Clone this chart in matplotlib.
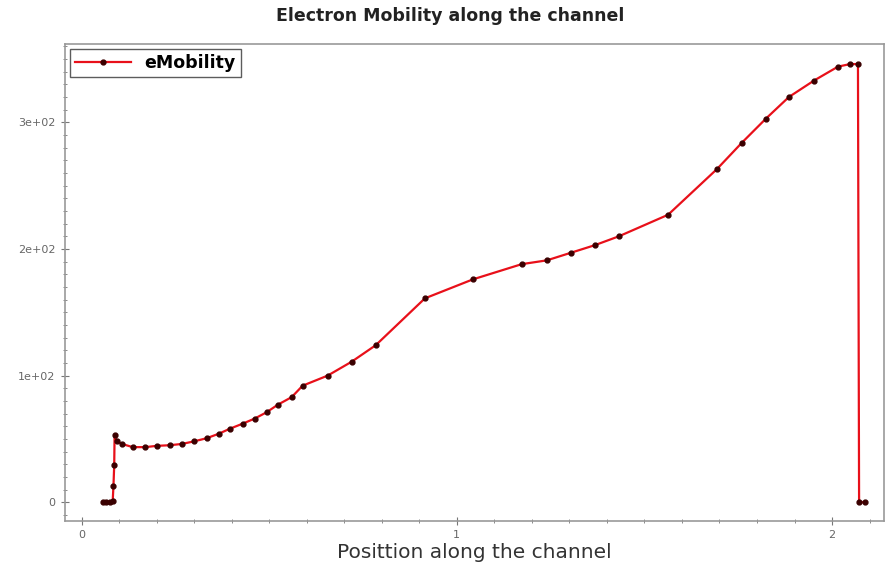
import matplotlib
matplotlib.use('Agg')
import matplotlib.pyplot as plt
from matplotlib.ticker import MultipleLocator, FixedFormatter, FixedLocator

# position along the channel and electron mobility
position = [0.056, 0.065, 0.075, 0.083, 0.085, 0.087, 0.088, 0.095, 0.108, 0.136,
            0.170, 0.200, 0.235, 0.267, 0.299, 0.333, 0.365, 0.395, 0.429, 0.461,
            0.493, 0.523, 0.560, 0.589, 0.656, 0.720, 0.784, 0.915, 1.043, 1.173,
            1.240, 1.304, 1.368, 1.432, 1.563, 1.693, 1.760, 1.824, 1.885, 1.952,
            2.016, 2.048, 2.069, 2.072, 2.088]
mobility = [0, 0, 0, 1, 13, 29, 53, 48, 46, 43.5,
            43.5, 44.5, 45, 46, 48, 50.5, 54, 58, 62, 66,
            71, 77, 83, 92, 100, 111, 124, 161, 176, 188,
            191, 197, 203, 210, 227, 263, 284, 303, 320, 333,
            344, 346, 346, 0, 0]
xticks = [0, 1, 2]
yticks = [0, 100, 200, 300]
ytick_labels = ['0', '1e+02', '2e+02', '3e+02']

fig = plt.figure(figsize=(8.86, 5.69), dpi=100)
ax = fig.add_axes([0.073, 0.084, 0.925, 0.839])

ax.plot(position, mobility, color='#e8101a', lw=1.6, marker='o', ms=3.5,
        mfc='#3a0000', mec='#3a0000', label='eMobility')

ax.set_xlim(-0.045, 2.139)
ax.set_ylim(-15, 362)
ax.xaxis.set_major_locator(FixedLocator(xticks))
ax.xaxis.set_minor_locator(MultipleLocator(0.1))
ax.yaxis.set_major_locator(FixedLocator(yticks))
ax.yaxis.set_major_formatter(FixedFormatter(ytick_labels))
ax.yaxis.set_minor_locator(MultipleLocator(10))
ax.tick_params(which='both', direction='inout', colors='#777777', labelcolor='#666666', labelsize=8)
ax.tick_params(which='major', length=6)
ax.tick_params(which='minor', length=3)
for s in ax.spines.values():
    s.set_color('#999999')
    s.set_linewidth(1.2)

fig.suptitle('Electron Mobility along the channel', x=0.508, y=0.988, fontsize=12.5,
             fontweight='bold', color='#222222')
ax.set_xlabel('Posittion along the channel', fontsize=14.5, color='#333333', labelpad=2)

leg = ax.legend(loc='upper left', frameon=True, fancybox=False,
                borderaxespad=0.3, handlelength=3.2, borderpad=0.3,
                prop={'weight': 'bold', 'size': 12.5})
leg.get_frame().set_edgecolor('#333333')
leg.get_frame().set_linewidth(1.0)

fig.savefig('out.png', dpi=100)
